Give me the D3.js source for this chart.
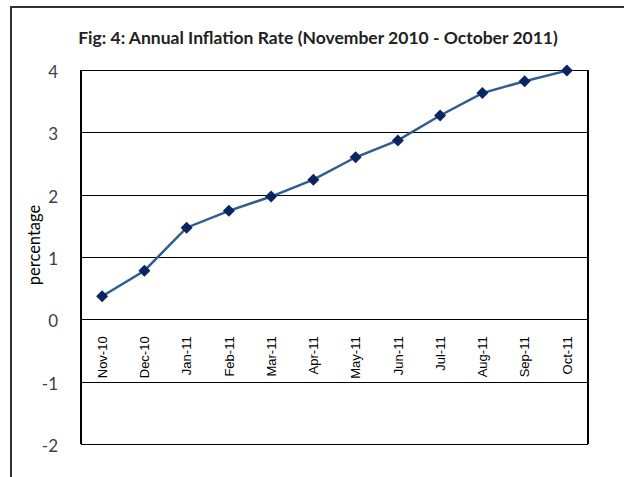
<!DOCTYPE html>
<meta charset="utf-8">
<head>
<style>
  body { margin: 0; background: #fff; }
  .y.axis text { font: 17px Lato, sans-serif; fill: #404040; }
  .x.axis text { font: 13px "Liberation Sans", Arial, sans-serif; fill: #000; }
  .axis .domain { display: none; }
  .grid line { stroke: #000; stroke-width: 1.3; shape-rendering: crispEdges; }
</style>
</head>
<body>
<script src="https://d3js.org/d3.v7.min.js"></script>
<script>

// months and annual inflation (%)
var months = ["Nov-10", "Dec-10", "Jan-11", "Feb-11", "Mar-11", "Apr-11",
              "May-11", "Jun-11", "Jul-11", "Aug-11", "Sep-11", "Oct-11"];
var inflation = [0.37, 0.78, 1.47, 1.74, 1.97, 2.24, 2.60, 2.87, 3.27, 3.63, 3.82, 3.99];
var yTicks = [-2, -1, 0, 1, 2, 3, 4];

var W = 624, H = 477;
// plot box (note: "top" is a reserved window global, so use other names)
var plotL = 81, plotR = 588, plotT = 70, plotB = 444;

var svg = d3.select("body").append("svg")
    .attr("width", W)
    .attr("height", H);

// outer frame of the figure (runs off the right and bottom)
svg.append("rect")
    .attr("x", 11).attr("y", 7)
    .attr("width", 700).attr("height", 600)
    .attr("fill", "none")
    .attr("stroke", "#333")
    .attr("stroke-width", 2);

var x = d3.scaleBand().domain(months).range([plotL, plotR]);
var y = d3.scaleLinear().domain([-2, 4]).range([plotB, plotT]);

// title
svg.append("text")
    .attr("x", 318)
    .attr("y", 44)
    .attr("text-anchor", "middle")
    .style("font", "bold 17.5px Lato, sans-serif")
    .style("fill", "#222")
    .text("Fig: 4: Annual Inflation Rate (November 2010 - October 2011)");

// horizontal gridlines + y labels (plain hyphen for negatives, like the original)
var yAxis = d3.axisLeft(y)
    .tickValues(yTicks)
    .tickSize(-(plotR - plotL))
    .tickPadding(23)
    .tickFormat(function(d) { return String(d); });

svg.append("g")
    .attr("class", "y axis grid")
    .attr("transform", "translate(" + plotL + ",0)")
    .call(yAxis)
  .selectAll("text")
    .attr("dy", "0.45em");

// plot border sides
svg.append("g").attr("class", "grid")
  .selectAll("line")
  .data([plotL, plotR])
  .enter().append("line")
    .attr("x1", function(d) { return d; })
    .attr("x2", function(d) { return d; })
    .attr("y1", plotT)
    .attr("y2", plotB);

// month labels, rotated, hanging below the zero line
var xAxis = d3.axisBottom(x).tickSize(0).tickPadding(0);

svg.append("g")
    .attr("class", "x axis")
    .attr("transform", "translate(0," + y(0) + ")")
    .call(xAxis)
  .selectAll("text")
    .attr("y", 0)
    .attr("x", 0)
    .attr("dy", "0.36em")
    .style("text-anchor", "end")
    .attr("transform", "translate(0,17) rotate(-90)");

// the series
var line = d3.line()
    .x(function(d, i) { return x(months[i]) + x.bandwidth() / 2; })
    .y(function(d) { return y(d); });

svg.append("path")
    .datum(inflation)
    .attr("fill", "none")
    .attr("stroke", "#2f5d8e")
    .attr("stroke-width", 2.5)
    .attr("d", line);

svg.selectAll(".marker")
    .data(inflation)
  .enter().append("path")
    .attr("class", "marker")
    .attr("d", d3.symbol().type(d3.symbolSquare).size(72))
    .attr("fill", "#0c2461")
    .attr("transform", function(d, i) {
      return "translate(" + (x(months[i]) + x.bandwidth() / 2) + "," + y(d) + ") rotate(45)";
    });

// y axis title
svg.append("text")
    .attr("transform", "translate(40,245) rotate(-90)")
    .attr("text-anchor", "middle")
    .style("font", "16.5px Lato, sans-serif")
    .style("fill", "#000")
    .text("percentage");

</script>
</body>
